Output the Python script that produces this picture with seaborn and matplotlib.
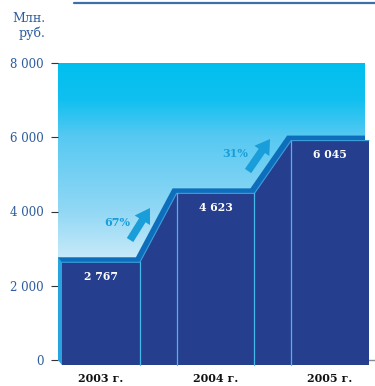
import numpy as np
import matplotlib
matplotlib.use("Agg")
import matplotlib.pyplot as plt
from matplotlib.colors import LinearSegmentedColormap
from matplotlib.patches import FancyArrowPatch
import seaborn as sns

# Revenue, mln roubles
years = ["2003 г.", "2004 г.", "2005 г."]
revenue = [2767, 4623, 6045]
value_labels = ["2 767", "4 623", "6 045"]
growth_labels = ["67%", "31%"]
y_ticks = [0, 2000, 4000, 6000, 8000]
y_tick_labels = ["0", "2 000", "4 000", "6 000", "8 000"]

sns.set_theme(style="white")
plt.rcParams["font.family"] = ["DejaVu Serif"]

W, H = 375, 386
fig = plt.figure(figsize=(W / 100, H / 100), dpi=100)
ax = fig.add_axes([58 / W, 1 - 360 / H, 307 / W, 297 / H])

half = 0.34                     # half width of a flat step
ymax = 8000
ax.set_xlim(-half, len(revenue) - 1 + half)
ax.set_ylim(0, ymax)

# pixel scale of the data axes, used for the extruded 3D offset
px_per_x = 307 / (len(revenue) - 1 + 2 * half)
px_per_y = 297 / ymax
dx = 4 / px_per_x
dy = -5 / px_per_y

# background gradient (cyan at the top fading to white)
grad_cmap = LinearSegmentedColormap.from_list(
    "sky",
    [(0.0, "#ffffff"), (0.30, "#d6effa"), (0.50, "#92d8f5"),
     (0.75, "#58c9f2"), (0.88, "#10c0f0"), (1.0, "#00bfef")])
grad = np.linspace(0, 1, 256).reshape(-1, 1)
ax.imshow(grad, cmap=grad_cmap, origin="lower", aspect="auto",
          extent=(-half, len(revenue) - 1 + half, 0, ymax), zorder=0)

# stepped outline built from the revenue values
step_x, step_y = [], []
for i, v in enumerate(revenue):
    step_x += [i - half, i + half]
    step_y += [v, v]

poly_x = step_x + [step_x[-1], step_x[0]]
poly_y = step_y + [0, 0]

# baseline
ax.plot([-half, 3.0], [0, 0], color="#8a8a8a", lw=1.0, clip_on=False, zorder=1)

# back face (shows as the top bevel)
ax.fill(poly_x, poly_y, color="#0d6fbb", zorder=2, clip_on=False, lw=0)

# left side face
side_x = [-half, -half, -half + dx, -half + dx]
side_y = [0, revenue[0], revenue[0] + dy, dy]
ax.fill(side_x, side_y, color="#27a3de", zorder=3, clip_on=False, lw=0)

# front face
front_x = [x + dx for x in poly_x]
front_y = [y + dy for y in poly_y]
ax.fill(front_x, front_y, color="#263e8e", zorder=4, clip_on=False, lw=0)

# light edge along the top of the front face
sns.lineplot(x=[x + dx for x in step_x], y=[y + dy for y in step_y], ax=ax,
             sort=False, estimator=None, color="#3d9fdc", lw=0.8,
             zorder=5, clip_on=False)

# dividers at each break of the step
for x, v in zip(step_x[1:-1], step_y[1:-1]):
    ax.plot([x + dx, x + dx], [dy, v + dy], color="#45b8ec", lw=0.9,
            zorder=5, clip_on=False)

# value labels inside each step
for i, (v, lab) in enumerate(zip(revenue, value_labels)):
    ax.annotate(lab, xy=(i + dx, v + dy), xytext=(0, -10),
                textcoords="offset points", ha="center", va="center",
                color="white", fontsize=7.8, fontweight="bold", zorder=6)

# growth arrows between the years
arrow_color = "#1a9ed9"
arrow_specs = [((0.289, 3232), (0.463, 4094), (0.175, 3691)),
               ((1.319, 5091), (1.511, 5953), (1.205, 5549))]
for (tail, tip, txt), lab in zip(arrow_specs, growth_labels):
    arr = FancyArrowPatch(tail, tip,
                          arrowstyle="simple,head_length=0.8,head_width=1.0,tail_width=0.42",
                          mutation_scale=13, color=arrow_color, lw=0,
                          shrinkA=0, shrinkB=0, zorder=6)
    ax.add_patch(arr)
    ax.text(txt[0], txt[1], lab, ha="center", va="center", color=arrow_color,
            fontsize=8, fontweight="bold", zorder=6)

# axes decoration
for s in ax.spines.values():
    s.set_visible(False)
ax.set_yticks(y_ticks)
ax.set_yticklabels(y_tick_labels)
ax.tick_params(axis="y", left=True, length=5, width=0.8, color="#333333",
               pad=5, labelsize=8.5, labelcolor="#2e5c9c")
ax.set_xticks([i + dx for i in range(len(years))])
ax.set_xticklabels(years, fontsize=8, fontweight="bold", color="#111111")
ax.tick_params(axis="x", bottom=False, length=0, pad=9)
ax.grid(False)

# unit caption and top rule
fig.text(45 / W, 1 - 18 / H, "Млн.", ha="right", va="center",
         fontsize=9, color="#2e5c9c")
fig.text(45 / W, 1 - 33 / H, "руб.", ha="right", va="center",
         fontsize=9, color="#2e5c9c")
fig.add_artist(plt.Line2D([74 / W, 1.0], [1 - 2.5 / H, 1 - 2.5 / H],
                          color="#3d6fa8", lw=1.6))

fig.savefig("out.png", dpi=100)
